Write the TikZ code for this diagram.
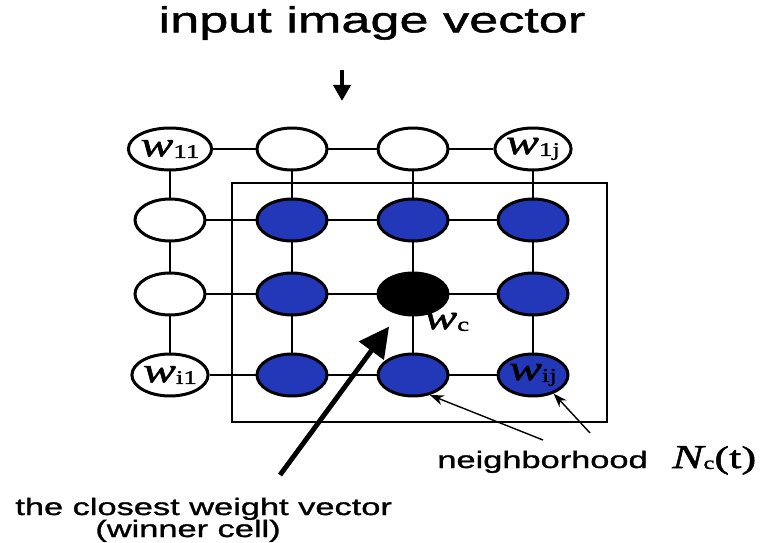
\documentclass[tikz,border=0pt]{standalone}
\usepackage{fontspec}
\setmainfont{Liberation Sans}[FakeStretch=1.45, FakeBold=1.3]
\newfontfamily\wserif{Liberation Serif}[FakeStretch=1.4, FakeBold=1.5]
\usetikzlibrary{shapes.geometric, arrows.meta}
\definecolor{cellBlue}{HTML}{2337B9}
\newcommand{\wlab}[1]{{\wserif\fontsize{20}{20}\selectfont\itshape w\raisebox{-1pt}{\fontsize{11}{11}\selectfont\upshape #1}}}
\newcommand{\nlab}{{\wserif\fontsize{19}{19}\selectfont\itshape N\raisebox{-0.5pt}{\fontsize{10}{10}\selectfont\upshape c}\fontsize{18}{18}\selectfont\upshape(t)}}
\tikzset{
  cell/.style={ellipse, draw=black, line width=1.7pt, minimum width=1.4cm,
               minimum height=0.84cm, inner sep=0pt},
  plaincell/.style={cell, fill=white},
  nbcell/.style={cell, fill=cellBlue},
  wincell/.style={cell, fill=black},
  link/.style={line width=1.3pt},
  bigarrow/.style={-{Triangle[length=0.6cm,width=0.6cm]}, line width=2.8pt},
  inarrow/.style={-{Triangle[length=0.32cm,width=0.34cm]}, line width=2.2pt},
  thinarrow/.style={-{Stealth[length=0.28cm,width=0.2cm]}, line width=0.8pt},
  caption/.style={font=\fontsize{13.5}{16}\selectfont},
}

\begin{document}
\begin{tikzpicture}[x=0.02cm, y=-0.02cm]
\useasboundingbox (0,0) rectangle (763,543);
\node (title) at (372,23) {\fontsize{20.5}{24}\selectfont input image vector};
\coordinate (intail) at (342,70);
\coordinate (intip) at (342,101);
\draw[inarrow] (intail) -- (intip);

\draw[line width=0.8pt] (232,183) rectangle (607,422);

\node[plaincell] (n11) at (170,149) {\wlab{11}};
\node[plaincell] (n12) at (292,149) {};
\node[plaincell] (n13) at (413,149) {};
\node[plaincell] (n14) at (533,149) {\wlab{1j}};
\node[plaincell] (n21) at (170,220) {};
\node[nbcell] (n22) at (292,220) {};
\node[nbcell] (n23) at (413,220) {};
\node[nbcell] (n24) at (533,220) {};
\node[plaincell] (n31) at (170,294) {};
\node[nbcell] (n32) at (292,294) {};
\node[wincell] (n33) at (413,294) {};
\node[nbcell] (n34) at (533,294) {};
\node[plaincell] (n41) at (170,375) {\wlab{i1}};
\node[nbcell] (n42) at (292,375) {};
\node[nbcell] (n43) at (413,375) {};
\node[nbcell] (n44) at (533,375) {\wlab{ij}};

\foreach \r in {1,...,4}
  \foreach \a/\b in {1/2,2/3,3/4}
    \draw[link] (n\r\a) -- (n\r\b);
\foreach \c in {1,...,4}
  \foreach \a/\b in {1/2,2/3,3/4}
    \draw[link] (n\a\c) -- (n\b\c);

\node[anchor=west, inner sep=0pt] (wclab) at (424,322) {\wlab{c}};

\coordinate (bigtail) at (280,475);
\draw[bigarrow, shorten >=0.3cm] (bigtail) -- (n33);

\node[caption, anchor=base west, inner sep=0pt] (nbtext) at (437,468) {neighborhood\hspace{14pt}\nlab};
\coordinate (nbtail1) at (543,440);
\coordinate (nbtail2) at (590,433);
\draw[thinarrow] (nbtail1) -- (n43.-50);
\draw[thinarrow] (nbtail2) -- (n44.-42);

\node[caption, anchor=base west, inner sep=0pt] (winner) at (15,515) {the closest weight vector};
\node[caption, anchor=base west, inner sep=0pt] (winnercell) at (95,537) {(winner cell)};
\end{tikzpicture}
\end{document}
